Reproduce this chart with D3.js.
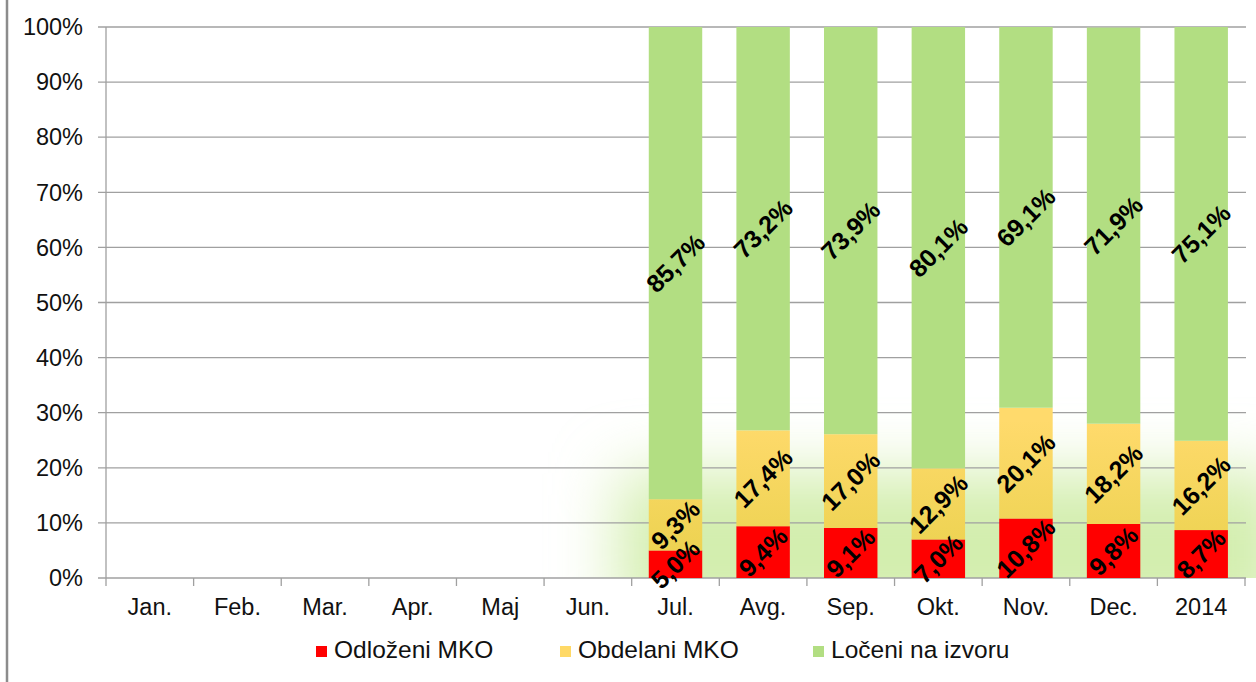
<!DOCTYPE html>
<html>
<head>
<meta charset="utf-8">
<script src="https://cdn.jsdelivr.net/npm/d3@7"></script>
<style>
  body { margin: 0; background: #fff; }
  svg { display: block; font-family: Arial, "Liberation Sans", sans-serif; }
</style>
</head>
<body>
<svg></svg>
<script>
// Months of the year plus the yearly total
const categories = ["Jan.", "Feb.", "Mar.", "Apr.", "Maj", "Jun.", "Jul.", "Avg.", "Sep.", "Okt.", "Nov.", "Dec.", "2014"];
const seriesNames = ["Odloženi MKO", "Obdelani MKO", "Ločeni na izvoru"];

// values in percent, null = no data for that month
const odlozeni = [null, null, null, null, null, null, 5.0, 9.4, 9.1, 7.0, 10.8, 9.8, 8.7];
const obdelani = [null, null, null, null, null, null, 9.3, 17.4, 17.0, 12.9, 20.1, 18.2, 16.2];
const loceni   = [null, null, null, null, null, null, 85.7, 73.2, 73.9, 80.1, 69.1, 71.9, 75.1];

const yTicks = [0, 10, 20, 30, 40, 50, 60, 70, 80, 90, 100];

window.onload = function () {
    drawChart();
};

function drawChart() {
    const width = 1256;
    const height = 682;
    const margin = { left: 106, right: 11, top: 27, bottom: 104 };

    const colors = ["#ff0000", "url(#yellowGrad)", "#b2de82"];
    const legendColors = ["#ff0000", "#ffd966", "#b2de82"];

    const svg = d3.select("svg")
        .attr("width", width)
        .attr("height", height);

    const defs = svg.append("defs");

    // yellow gets darker / greener near the bottom, like in the original glow
    const grad = defs.append("linearGradient")
        .attr("id", "yellowGrad")
        .attr("gradientUnits", "userSpaceOnUse")
        .attr("x1", 0).attr("x2", 0)
        .attr("y1", 420).attr("y2", 578);
    grad.append("stop").attr("offset", "0%").attr("stop-color", "#ffda6c");
    grad.append("stop").attr("offset", "100%").attr("stop-color", "#e9d14c");

    const blur = defs.append("filter")
        .attr("id", "glow")
        .attr("x", "-50%").attr("y", "-100%")
        .attr("width", "200%").attr("height", "300%");
    blur.append("feGaussianBlur").attr("stdDeviation", 32);

    defs.append("clipPath").attr("id", "plotClip")
        .append("rect")
        .attr("x", 0).attr("y", 0)
        .attr("width", width).attr("height", height - margin.bottom);

    const x = d3.scaleBand()
        .domain(categories)
        .range([margin.left, width - margin.right])
        .paddingInner(0.39)
        .paddingOuter(0.195);

    const y = d3.scaleLinear()
        .domain([0, 100])
        .range([height - margin.bottom, margin.top]);

    // left border of the chart frame
    svg.append("line")
        .attr("x1", 7).attr("x2", 7)
        .attr("y1", 0).attr("y2", height)
        .attr("stroke", "#8c8c8c")
        .attr("stroke-width", 2.5);

    // soft green glow behind the filled months
    svg.append("g")
        .attr("clip-path", "url(#plotClip)")
        .append("rect")
        .attr("x", x("Jul.") - 30)
        .attr("y", y(19))
        .attr("width", width - x("Jul.") + 60)
        .attr("height", y(0) - y(19) + 50)
        .attr("fill", "#d3eeae")
        .attr("filter", "url(#glow)");

    // gridlines
    svg.append("g")
        .selectAll("line")
        .data(yTicks)
        .join("line")
        .attr("x1", margin.left - 8)
        .attr("x2", width - margin.right + 1)
        .attr("y1", d => y(d))
        .attr("y2", d => y(d))
        .attr("stroke", "#a0a0a0")
        .attr("stroke-width", 1.3);

    // y axis line
    svg.append("line")
        .attr("x1", margin.left).attr("x2", margin.left)
        .attr("y1", y(100)).attr("y2", y(0))
        .attr("stroke", "#a0a0a0")
        .attr("stroke-width", 1.3);

    // y labels
    svg.append("g")
        .selectAll("text")
        .data(yTicks)
        .join("text")
        .attr("x", 83)
        .attr("y", d => y(d))
        .attr("dy", "0.35em")
        .attr("text-anchor", "end")
        .attr("font-size", "23.5px")
        .attr("fill", "#111")
        .text(d => d + "%");

    // x ticks at band boundaries
    const boundaries = d3.range(categories.length + 1).map(i => margin.left + i * (width - margin.right - margin.left) / categories.length);
    svg.append("g")
        .selectAll("line")
        .data(boundaries)
        .join("line")
        .attr("x1", d => d).attr("x2", d => d)
        .attr("y1", y(0)).attr("y2", y(0) + 8)
        .attr("stroke", "#a0a0a0")
        .attr("stroke-width", 1.3);

    svg.append("g")
        .selectAll("text")
        .data(categories)
        .join("text")
        .attr("x", d => x(d) + x.bandwidth() / 2)
        .attr("y", 615)
        .attr("text-anchor", "middle")
        .attr("font-size", "23.5px")
        .attr("fill", "#111")
        .text(d => d);

    // stacked bars
    const rows = categories.map((c, i) => ({
        cat: c,
        s0: odlozeni[i],
        s1: obdelani[i],
        s2: loceni[i]
    }));
    const stacked = d3.stack()
        .keys(["s0", "s1", "s2"])
        .value((d, key) => d[key] == null ? 0 : d[key])(rows);

    const layer = svg.append("g")
        .selectAll("g")
        .data(stacked)
        .join("g")
        .attr("fill", (d, i) => colors[i]);

    layer.selectAll("rect")
        .data(d => d.filter(p => p.data[d.key] != null))
        .join("rect")
        .attr("x", p => x(p.data.cat))
        .attr("width", x.bandwidth())
        .attr("y", p => y(p[1]))
        .attr("height", p => y(p[0]) - y(p[1]));

    // rotated data labels
    const labels = [];
    stacked.forEach(s => {
        s.forEach(p => {
            const v = p.data[s.key];
            if (v != null) {
                labels.push({
                    cx: x(p.data.cat) + x.bandwidth() / 2,
                    cy: y((p[0] + p[1]) / 2),
                    text: v.toFixed(1).replace(".", ",") + "%"
                });
            }
        });
    });

    svg.append("g")
        .selectAll("text")
        .data(labels)
        .join("text")
        .attr("transform", d => "translate(" + d.cx + "," + d.cy + ") rotate(-45)")
        .attr("text-anchor", "middle")
        .attr("dy", "0.35em")
        .attr("font-size", "25px")
        .attr("font-weight", "bold")
        .attr("fill", "#000")
        .text(d => d.text);

    // legend
    const legendX = [316, 560, 813];
    const legend = svg.append("g")
        .selectAll("g")
        .data(seriesNames)
        .join("g")
        .attr("transform", (d, i) => "translate(" + legendX[i] + ",646)");

    legend.append("rect")
        .attr("width", 11)
        .attr("height", 11)
        .attr("fill", (d, i) => legendColors[i]);

    legend.append("text")
        .attr("x", 18)
        .attr("y", 12)
        .attr("font-size", "24.5px")
        .attr("fill", "#111")
        .text(d => d);
}
</script>
</body>
</html>
